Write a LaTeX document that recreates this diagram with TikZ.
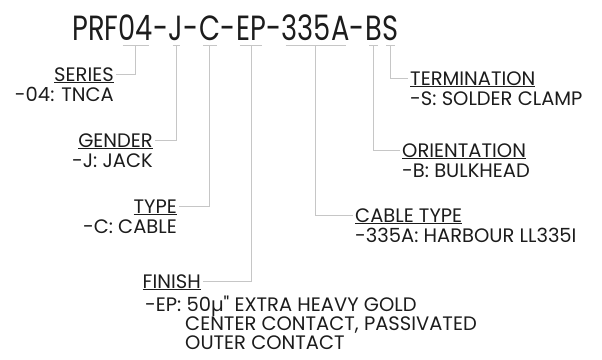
\documentclass[tikz,border=0pt]{standalone}
\usepackage{fontspec}
\setmainfont{Poppins}
\newfontfamily\codefont[FakeStretch=0.78]{Poppins}
\newfontfamily\rawfont{Poppins}
\usetikzlibrary{positioning}
\definecolor{leadergray}{RGB}{198,198,198}
\definecolor{inkdark}{RGB}{28,28,28}

\begin{document}
\begin{tikzpicture}[x=1pt,y=1pt,
    code/.style={inner sep=0pt,text=inkdark,font=\codefont\fontsize{35}{40}\selectfont},
    head/.style={inner xsep=2pt,inner ysep=0pt,text depth=0pt,text=inkdark,
                 font=\fontsize{19.5}{19}\selectfont},
    desc/.style={inner xsep=2pt,inner ysep=0pt,text=inkdark,align=left,
                 font=\fontsize{19.5}{19}\selectfont},
    leader/.style={draw=leadergray,line width=0.9pt}]

  \useasboundingbox (0,0) rectangle (602,-359);

  %-------------------- part number --------------------
  \node[code,anchor=base west] (prf) at (72,-40) {PRF};
  \node[code,base right=0pt of prf] (ser) {04};
  \node[code,base right=0pt of ser] (d1) {-};
  \node[code,base right=0pt of d1] (gen) {J};
  \node[code,base right=0pt of gen] (d2) {-};
  \node[code,base right=0pt of d2] (typ) {C};
  \node[code,base right=0pt of typ] (d3) {-};
  \node[code,base right=0pt of d3] (fin) {EP};
  \node[code,base right=0pt of fin] (d4) {-};
  \node[code,base right=0pt of d4] (cab) {335A};
  \node[code,base right=0pt of cab] (d5) {-};
  \node[code,base right=0pt of d5] (ori) {B};
  \node[code,base right=0pt of ori] (ter) {S};

  % Klamry pod segmentami
  \foreach \seg in {ser,gen,typ,fin,cab,ori,ter}{
      \draw[leader]
          ([xshift=4pt,yshift=-5pt]\seg.base west) -- ([xshift=-4pt,yshift=-5pt]\seg.base east);
  }

  %-------------------- left side --------------------
  \node[head,anchor=base east] (series) at (116,-81) {\underline{SERIES}};
  \node[desc,anchor=base east] (seriesval) at ([yshift=-20pt]series.base east) {-04: TNCA};

  \node[head,anchor=base east] (gender) at (155,-147) {\underline{GENDER}};
  \node[desc,anchor=base east] (genderval) at ([yshift=-20pt]gender.base east) {-J: JACK};

  \node[head,anchor=base east] (type) at (179,-213) {\underline{TYPE}};
  \node[desc,anchor=base east] (typeval) at ([yshift=-20pt]type.base east) {-C: CABLE};

  \node[head,anchor=base east] (finish) at (203,-288) {\underline{FINISH}};
  \node[desc,anchor=north west] (finishval) at (143,-296)
      {-EP: 50µ{\rawfont"} EXTRA HEAVY GOLD\\
       \hspace*{40pt}CENTER CONTACT, PASSIVATED\\
       \hspace*{40pt}OUTER CONTACT};

  %-------------------- right side --------------------
  \node[head,anchor=base west] (termination) at (408,-85) {\underline{TERMINATION}};
  \node[desc,anchor=base west] (terminationval) at ([yshift=-20pt]termination.base west) {-S: SOLDER CLAMP};

  \node[head,anchor=base west] (orientation) at (400,-157) {\underline{ORIENTATION}};
  \node[desc,anchor=base west] (orientationval) at ([yshift=-20pt]orientation.base west) {-B: BULKHEAD};

  \node[head,anchor=base west] (cabletype) at (353,-222) {\underline{CABLE TYPE}};
  \node[desc,anchor=base west] (cabletypeval) at ([yshift=-20pt]cabletype.base west) {-335A: HARBOUR LL335I};

  % Linie odniesienia
  \foreach \seg/\lbl/\side in {ser/series/east,gen/gender/east,typ/type/east,fin/finish/east,
                               cab/cabletype/west,ori/orientation/west,ter/termination/west}{
      \draw[leader] ([yshift=-5pt]\seg.base) |- (\lbl.\side);
  }

\end{tikzpicture}
\end{document}
